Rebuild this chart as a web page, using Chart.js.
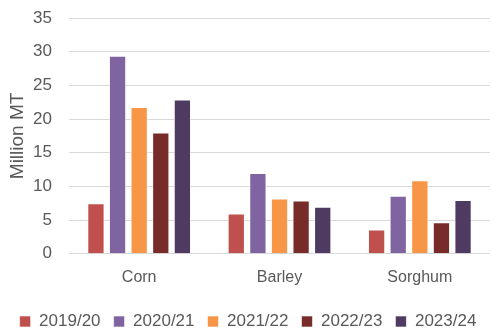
<!DOCTYPE html>
<html>
<head>
<meta charset="utf-8">
<script src="https://cdn.jsdelivr.net/npm/chart.js@4"></script>
<style>
html,body{margin:0;padding:0;background:#fff;}
#wrap{width:500px;height:332px;}
</style>
</head>
<body>
<div id="wrap"><canvas id="c" width="500" height="332"></canvas></div>
<script>
const categories = ["Corn", "Barley", "Sorghum"];
const seriesNames = ["2019/20", "2020/21", "2021/22", "2022/23", "2023/24"];
const v2019 = [7.5, 6.0, 3.6];
const v2020 = [29.4, 12.0, 8.6];
const v2021 = [21.8, 8.2, 10.9];
const v2022 = [18.0, 7.9, 4.7];
const v2023 = [22.9, 7.0, 8.0];
const yTicks = [0, 5, 10, 15, 20, 25, 30, 35];
const colors = ["#C0504D", "#8064A2", "#F79646", "#772C2A", "#4F3B62"];
const allValues = [v2019, v2020, v2021, v2022, v2023];

const FONT = "'Liberation Sans', Arial, sans-serif";
Chart.defaults.font.family = FONT;
Chart.defaults.color = "#595959";

new Chart(document.getElementById("c"), {
  type: "bar",
  data: {
    labels: categories,
    datasets: seriesNames.map((n, i) => ({
      label: n,
      data: allValues[i],
      backgroundColor: colors[i],
      borderColor: "rgba(255,255,255,0.6)",
      borderWidth: 1,
      categoryPercentage: 0.77,
      barPercentage: 0.8
    }))
  },
  options: {
    responsive: false,
    animation: false,
    devicePixelRatio: 1,
    layout: { padding: { left: 6, right: 10, top: 18, bottom: -8 } },
    plugins: {
      legend: {
        position: "bottom",
        labels: {
          boxWidth: 11, boxHeight: 11, padding: 13,
          font: { size: 17, family: FONT }, color: "#595959"
        }
      },
      tooltip: { enabled: false }
    },
    scales: {
      x: {
        grid: { display: false },
        border: { display: false },
        afterFit: (s) => { s.height += 7; },
        ticks: { font: { size: 16, family: FONT }, color: "#595959", padding: 6 }
      },
      y: {
        min: 0, max: 35,
        afterBuildTicks: (s) => { s.ticks = yTicks.map(v => ({ value: v })); },
        afterFit: (s) => { s.width = 63; s.paddingTop = 0; s.paddingBottom = 0; },
        grid: { color: "#d9d9d9", lineWidth: 1, drawTicks: false },
        border: { display: false },
        ticks: { font: { size: 17, family: FONT }, color: "#595959", padding: 17 },
        title: { display: true, text: "Million MT", font: { size: 19, family: FONT }, color: "#595959", padding: 0 }
      }
    }
  }
});
</script>
</body>
</html>
